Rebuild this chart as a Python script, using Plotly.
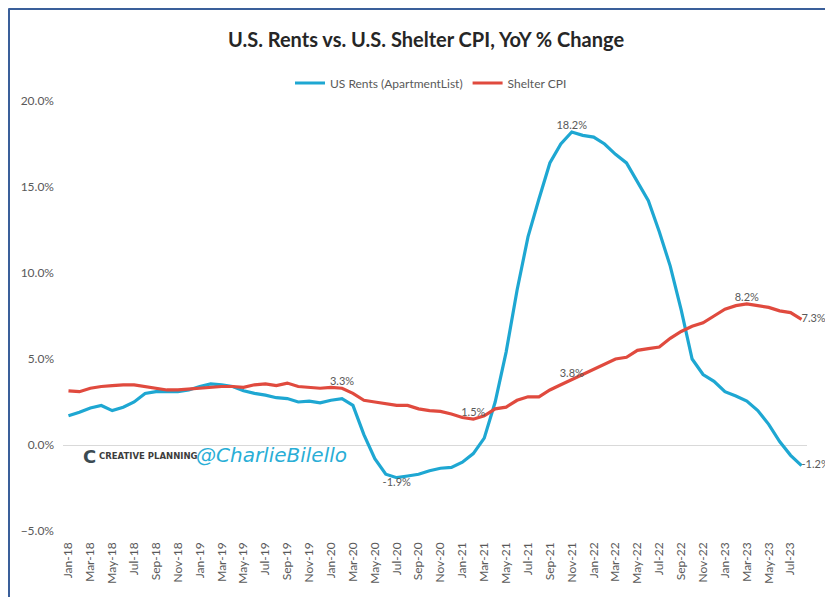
import pandas as pd
import plotly.graph_objects as go

months = list(pd.date_range("2018-01-01", "2023-08-01", freq="MS").strftime("%b-%y"))

us_rents = [
    1.7, 1.9, 2.15, 2.3, 2.0, 2.2, 2.5, 3.0, 3.1, 3.1, 3.1, 3.2,
    3.4, 3.55, 3.5, 3.4, 3.15, 3.0, 2.9, 2.75, 2.7, 2.5, 2.55, 2.45,
    2.6, 2.7, 2.3, 0.6, -0.8, -1.7, -1.9, -1.8, -1.7, -1.5, -1.35, -1.3,
    -1.0, -0.5, 0.4, 2.5, 5.4, 9.0, 12.1, 14.3, 16.4, 17.5, 18.2, 18.0,
    17.9, 17.5, 16.9, 16.4, 15.3, 14.2, 12.4, 10.4, 7.85, 5.0, 4.1, 3.7,
    3.1, 2.85, 2.55, 2.0, 1.2, 0.2, -0.6, -1.2,
]
shelter_cpi = [
    3.15, 3.1, 3.3, 3.4, 3.45, 3.5, 3.5, 3.4, 3.3, 3.2, 3.2, 3.25,
    3.3, 3.35, 3.4, 3.4, 3.35, 3.5, 3.55, 3.45, 3.6, 3.4, 3.35, 3.3,
    3.35, 3.3, 3.0, 2.6, 2.5, 2.4, 2.3, 2.3, 2.1, 2.0, 1.95, 1.8,
    1.6, 1.5, 1.7, 2.1, 2.2, 2.6, 2.8, 2.8, 3.2, 3.5, 3.8, 4.1,
    4.4, 4.7, 5.0, 5.1, 5.5, 5.6, 5.7, 6.2, 6.6, 6.9, 7.1, 7.5,
    7.9, 8.1, 8.2, 8.1, 8.0, 7.8, 7.7, 7.3,
]

rents_labels = {46: "top center", 30: "bottom center", 67: "middle right"}
shelter_labels = {25: "top center", 37: "top center", 46: "top center", 62: "top center", 67: "middle right"}

BLUE = "#1ea7d2"
RED = "#e04a3e"
GRAY = "#595959"
FONT = "Lato, sans-serif"

# The page body has an 8px default margin; size the figure so the plot area
# lands where the reference has it.
W, H = 825, 589
L, R, T, B = 55, 26, 93, 66
PW, PH = W - L - R, H - T - B


def px(xp):
    return (xp - L) / PW


def py(yp):
    return (H - B - yp) / PH


x = list(range(len(months)))

fig = go.Figure()
fig.add_trace(go.Scatter(x=x, y=us_rents, mode="lines", name="US Rents (ApartmentList)",
                         line=dict(color=BLUE, width=3.2)))
fig.add_trace(go.Scatter(x=x, y=shelter_cpi, mode="lines", name="Shelter CPI",
                         line=dict(color=RED, width=3.2)))

for series, labels in ((us_rents, rents_labels), (shelter_cpi, shelter_labels)):
    idx = list(labels.keys())
    fig.add_trace(go.Scatter(
        x=[x[i] for i in idx], y=[series[i] for i in idx], mode="text",
        text=[f"{series[i]:.1f}%" for i in idx],
        textposition=[labels[i] for i in idx],
        textfont=dict(family=FONT, size=11, color=GRAY),
        cliponaxis=False,
        showlegend=False, hoverinfo="skip"))

fig.update_layout(
    width=W, height=H,
    margin=dict(l=L, r=R, t=T, b=B, autoexpand=False),
    paper_bgcolor="white", plot_bgcolor="white",
    font=dict(family=FONT, size=12, color=GRAY),
    title=dict(text="<b>U.S. Rents vs. U.S. Shelter CPI, YoY % Change</b>",
               x=(418) / W, xanchor="center", y=1 - 32 / H, yanchor="middle",
               font=dict(family=FONT, size=20, color="#262626")),
    legend=dict(orientation="h", x=px(423), xanchor="center", y=py(75), yanchor="middle",
                font=dict(family=FONT, size=12, color=GRAY), itemwidth=30),
    showlegend=True,
)
fig.update_xaxes(range=[-0.5, len(months) - 0.5], tickmode="array",
                 tickvals=x[::2], ticktext=months[::2], tickangle=-90,
                 showgrid=False, showline=False, zeroline=False,
                 ticks="", ticklabelstandoff=8,
                 tickfont=dict(family=FONT, size=12, color=GRAY))
fig.update_yaxes(range=[-5, 20], dtick=5, tickformat=".1f", ticksuffix="%",
                 showgrid=False, showline=False, zeroline=True,
                 zerolinecolor="#d9d9d9", zerolinewidth=1,
                 ticklabelstandoff=8,
                 tickfont=dict(family=FONT, size=12, color=GRAY))

# frame border (top and left edges visible)
fig.add_shape(type="line", xref="paper", yref="paper", x0=px(0.5), x1=px(W + 5), y0=py(0.5), y1=py(0.5),
              line=dict(color="#3a5f9a", width=3))
fig.add_shape(type="line", xref="paper", yref="paper", x0=px(0.5), x1=px(0.5), y0=py(0.5), y1=py(H + 5),
              line=dict(color="#3a5f9a", width=3))

# watermark
fig.add_annotation(xref="paper", yref="paper", x=px(81), y=py(448),
                   text="<b>C</b>", showarrow=False, xanchor="center", yanchor="middle",
                   font=dict(family="DejaVu Sans", size=18, color="#3b4a52"))
fig.add_annotation(xref="paper", yref="paper", x=px(89), y=py(448),
                   text="<b>CREATIVE PLANNING</b>", showarrow=False, xanchor="left", yanchor="middle",
                   font=dict(family="DejaVu Sans", size=8.5, color="#3d3d3d"))
fig.add_annotation(xref="paper", yref="paper", x=px(186), y=py(447),
                   text="<i>@CharlieBilello</i>", showarrow=False, xanchor="left", yanchor="middle",
                   font=dict(family="DejaVu Sans", size=20, color="#2aaed6"))

fig.write_html("out.html")
